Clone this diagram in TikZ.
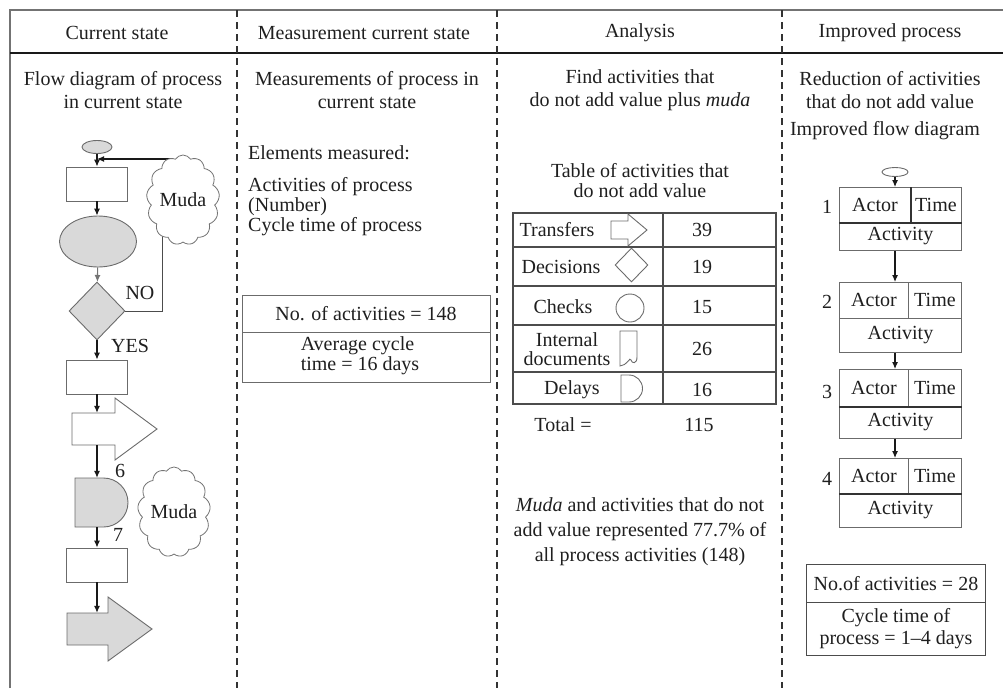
\documentclass[tikz,border=0pt]{standalone}
\usepackage{fontspec}
\setmainfont{Liberation Serif}
\usetikzlibrary{shapes.geometric,shapes.symbols,arrows.meta,calc}
\pgfdeclarelayer{background}
\pgfsetlayers{background,main}
\definecolor{shade}{gray}{0.85}
\definecolor{boxgray}{gray}{0.42}
\begin{document}
\begin{tikzpicture}[x=1pt,y=-1pt,
  every node/.style={font=\fontsize{20}{23}\selectfont, inner sep=0pt, text=black!88},
  box/.style={draw=boxgray, line width=0.9pt, fill=white},
  grayshape/.style={draw=boxgray, line width=0.9pt, fill=shade},
  outl/.style={draw=boxgray, line width=0.9pt},
  tab/.style={draw=black!70, line width=1.1pt},
  conn/.style={-{Latex[length=7pt,width=6pt]}, line width=1.1pt, draw=black!90},
  plainline/.style={line width=1pt, draw=black!70},
  divider/.style={dash pattern=on 7pt off 5pt, line width=1.6pt, draw=black!80},
  txt/.style={align=center},
  cloudy/.style={cloud, cloud puffs=13, cloud puff arc=115, draw=black!55, line width=0.8pt, fill=white, minimum width=73, minimum height=90, inner sep=0pt}
]
\useasboundingbox (0,0) rectangle (1003,688);
% frame
\draw[line width=1.2pt, draw=black!55] (10,688) -- (10,10) -- (1003,10);
\draw[line width=2.6pt, draw=black!90] (10,53) -- (1003,53);
\foreach \x in {237,497,782} \draw[divider] (\x,10) -- (\x,688);

% headers
\node (h1) at (117,33) {Current state};
\node (h2) at (364,33) {Measurement current state};
\node (h3) at (640,33) {Analysis};
\node (h4) at (890,33) {Improved process};

% subtitles
\node[txt] (t1) at (123,90) {Flow diagram of process\\in current state};
\node[txt] (t2) at (367,90) {Measurements of process in\\current state};
\node[txt] (t3) at (640,90) {Find activities that\\do not add value plus \textit{muda}};
\node[txt] (t4) at (890,90) {Reduction of activities\\that do not add value};
\node (t4b) at (885,131) {Improved flow diagram};

% ---------- current state flow diagram ----------
\node[grayshape, ellipse, minimum width=30, minimum height=13] (st) at (97,147) {};
\node[box, minimum width=61, minimum height=34] (r1) at (97,184) {};
\node[grayshape, ellipse, minimum width=77, minimum height=51] (el) at (98,241.5) {};
\node[grayshape, diamond, minimum width=56, minimum height=58] (dm) at (97,311) {};
\node[box, minimum width=61, minimum height=34] (r2) at (97,377) {};
\draw[box] (72,413) -- (115,413) -- (115,398) -- (157,429) -- (115,460) -- (115,445) -- (72,445) -- cycle;
\node[minimum width=43, minimum height=32] (tr1) at (93.5,429) {};
\draw[grayshape] (75,478) -- (103.5,478) arc[start angle=-90, end angle=90, radius=24.5] -- (75,527) -- cycle;
\node[minimum width=53, minimum height=49] (dl) at (101.5,502.5) {};
\node[box, minimum width=61, minimum height=34] (r3) at (97,565) {};
\draw[grayshape] (67,613) -- (108,613) -- (108,597) -- (152,629) -- (108,661) -- (108,645) -- (67,645) -- cycle;
\node[minimum width=41, minimum height=32] (ga) at (87.5,629) {};

\node[cloudy] (cl1) at (183,200) {\raisebox{-4pt}{Muda}};
\node[cloudy, minimum width=72] (cl2) at (174,512) {Muda};

\coordinate (fb) at (172,159);
\coordinate (nocorner) at (162,215);
\begin{pgfonlayer}{background}
\draw[conn] (fb) -- (fb -| st.south);
\draw[plainline] (dm.east) -| (nocorner);
\end{pgfonlayer}

\draw[conn] (st) -- (r1);
\draw[conn] (r1) -- (r1.south |- el.north);
\draw[conn, draw=black!55] (el) -- (dm);
\draw[conn] (dm) -- (r2);
\draw[conn] (r2) -- (r2.south |- tr1.north);
\draw[conn] (tr1.south -| r2.south) -- (r2.south |- dl.north);
\draw[conn] (dl.south -| r2.south) -- (r3);
\draw[conn] (r3) -- (r3.south |- ga.north);

\node (no) at (140,293) {NO};
\node (yes) at (130,346) {YES};
\node (six) at (120,471) {6};
\node (seven) at (118,535) {7};

% ---------- measurement ----------
\node[anchor=west] (em) at (248,153) {Elements measured:};
\node[anchor=west, align=left, font=\fontsize{20}{20}\selectfont] (act) at (248,207) {Activities of process\\(Number)\\Cycle time of process};
\node[box, minimum width=248, minimum height=37] (m1) at (366,313.5) {No. of activities = 148};
\node[box, minimum width=248, minimum height=50] (m2) at (366,357) {};
\node[align=left, font=\fontsize{20}{20}\selectfont] (m2t) at (360,356) {Average cycle\\time = 16 days};

% ---------- analysis ----------
\node[txt, font=\fontsize{20}{20}\selectfont] (tt) at (640,181) {Table of activities that\\do not add value};
\draw[tab] (513,213) rectangle (776,404);
\foreach \y in {247,286,325,372} \draw[tab] (513,\y) -- (776,\y);
\draw[tab] (663,213) -- (663,404);

\node (l1) at (557,230) {Transfers};
\node (l2) at (561,267) {Decisions};
\node (l3) at (563,307) {Checks};
\node[txt, font=\fontsize{20}{19}\selectfont] (l4) at (567,349) {Internal\\documents};
\node (l5) at (572,390) {Delays};

\draw[outl] (611,221) -- (628,221) -- (628,214) -- (647,230) -- (628,246) -- (628,239) -- (611,239) -- cycle;
\node[diamond, outl, minimum width=33, minimum height=34] (sd) at (631.5,265) {};
\node[circle, outl, minimum size=28] (sc) at (630,308) {};
\draw[outl] (620,331) -- (637,331) -- (637,357) .. controls (637,364) and (632,364) .. (631,360) .. controls (630,356) and (627,366) .. (620,366) -- cycle;
\draw[outl] (621,375) -- (629,375) arc[start angle=-90, end angle=90, radius=13.5] -- (621,402) -- cycle;

\node (v1) at (702,230) {39};
\node (v2) at (702,267) {19};
\node (v3) at (702,307) {15};
\node (v4) at (702,349) {26};
\node (v5) at (702,390) {16};

\node (tot) at (563,425) {Total =};
\node (totv) at (699,425) {115};
\node[txt, font=\fontsize{20}{25}\selectfont] (mp) at (640,532) {\textit{Muda} and activities that do not\\add value represented 77.7\% of\\all process activities (148)};

% ---------- improved process ----------
\node[box, ellipse, minimum width=26, minimum height=9] (s) at (895,172) {};

\node[box, minimum width=71, minimum height=35, anchor=north west] (a1) at (839,187) {Actor};
\node[box, minimum width=51, minimum height=35, anchor=north west] (tm1) at (910,187) {Time};
\node[box, minimum width=122, minimum height=28, anchor=north west] (ac1) at (839,222) {Activity};

\node[box, minimum width=69, minimum height=36, anchor=north west] (a2) at (839,282) {Actor};
\node[box, minimum width=53, minimum height=36, anchor=north west] (tm2) at (908,282) {Time};
\node[box, minimum width=122, minimum height=34, anchor=north west] (ac2) at (839,318) {Activity};

\node[box, minimum width=69, minimum height=37, anchor=north west] (a3) at (839,369) {Actor};
\node[box, minimum width=53, minimum height=37, anchor=north west] (tm3) at (908,369) {Time};
\node[box, minimum width=122, minimum height=32, anchor=north west] (ac3) at (839,406) {Activity};

\node[box, minimum width=69, minimum height=35, anchor=north west] (a4) at (839,458) {Actor};
\node[box, minimum width=53, minimum height=35, anchor=north west] (tm4) at (908,458) {Time};
\node[box, minimum width=122, minimum height=34, anchor=north west] (ac4) at (839,493) {Activity};

\draw[line width=1.3pt, draw=black!80] (a1.south west) -- (tm1.south east);
\draw[line width=1.3pt, draw=black!80] (a1.north east) -- (a1.south east);
\draw[line width=1.3pt, draw=black!80] (a4.south west) -- (tm4.south east);
\draw[line width=1.3pt, draw=black!80] (a3.south west) -- (tm3.south east);

\node (n1) at (827,207) {1};
\node (n2) at (827,302) {2};
\node (n3) at (827,392) {3};
\node (n4) at (827,479) {4};

\draw[conn] (s) -- (s.south |- a1.north);
\draw[conn] (ac1.south -| s.south) -- (s.south |- a2.north);
\draw[conn] (ac2.south -| s.south) -- (s.south |- a3.north);
\draw[conn] (ac3.south -| s.south) -- (s.south |- a4.north);

\node[box, draw=black!70, minimum width=179, minimum height=38, anchor=north west] (f1) at (806,564) {No.of activities = 28};
\node[box, draw=black!70, minimum width=179, minimum height=53, anchor=north west, align=center, font=\fontsize{20}{22}\selectfont] (f2) at (806,602) {Cycle time of\\process = 1--4 days};
\end{tikzpicture}
\end{document}
